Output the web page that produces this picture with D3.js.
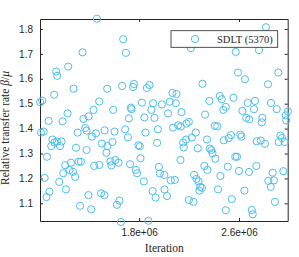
<!DOCTYPE html>
<html>
<head>
<meta charset="utf-8">
<script src="https://cdn.jsdelivr.net/npm/d3@7"></script>
<style>
  body { margin: 0; background: #fff; }
  .axis path, .axis line { stroke: #262626; }
  .axis text { font-family: "Liberation Sans", Arial, sans-serif; font-size: 10px; fill: #262626; }
  .lbl { font-family: "Liberation Serif", "Times New Roman", serif; fill: #262626; }
</style>
</head>
<body>
<div id="chart"></div>
<script>
// iteration (thousands) and relative transfer rate
var iterK = [1462,1347,1232,1136,1144,1275,1120,1008,1024,1480,1435,1227,1395,1354,1075,1187,
  1672,1694,1544,1664,1758,1752,1883,1862,1592,1734,1739,1822,1912,1982,1898,1718,1842,1923,
  2214,2307,2067,2099,2046,2094,2032,2139,2328,2363,2446,2462,2474,2494,
  2816,2574,2760,2592,2648,2915,2832,2555,2670,2728,2627,2720,2856,2902,2992,2974,2978,
  2658,2682,2787,2782,
  2072,2112,2134,2179,2198,2406,2426,2254,2222,2152,2176,2158,2270,2344,2478,2131,2366,2379,2387,2411,
  2323,2347,2054,2086,2240,2259,2275,2290,2304,2283,2451,2432,2003,2024,2198,2235,2494,
  2518,2536,2610,2620,2742,2774,2808,2931,2944,2918,2966,2570,2584,2510,2600,2680,2739,2870,2880,
  2835,2854,2955,2643,2542,2888,2702,2710,
  1523,1603,1688,1710,1851,1950,1502,1546,1586,1538,1794,1806,1944,1811,1570,1578,1610,1635,1727,
  1774,1783,1482,1838,1958,1966,2002,1495,1522,1642,1622,1908,1932,1654,1874,
  1014,1035,1307,1368,1379,1454,1422,1106,1122,1142,1179,1096,1166,1294,1379,1062,1254,1315,1334,
  1208,1440,1242,1270,1192,1288,1043,1160,1214,1082,1058,1394,1327,1416];

var rate = [1.841,1.706,1.649,1.629,1.612,1.560,1.536,1.506,1.512,1.509,1.475,1.461,1.449,1.439,1.431,1.429,
  1.759,1.704,1.560,1.571,1.579,1.567,1.575,1.563,1.475,1.484,1.478,1.504,1.502,1.497,1.475,1.441,1.445,1.443,
  1.723,1.580,1.543,1.539,1.508,1.502,1.461,1.466,1.456,1.511,1.531,1.518,1.475,1.487,
  1.807,1.708,1.715,1.625,1.598,1.625,1.578,1.524,1.503,1.511,1.471,1.478,1.503,1.478,1.469,1.453,1.433,
  1.443,1.437,1.443,1.425,
  1.404,1.413,1.408,1.420,1.427,1.411,1.409,1.384,1.364,1.344,1.356,1.324,1.321,1.356,1.353,1.274,1.320,1.314,1.301,1.279,
  1.250,1.234,1.192,1.194,1.214,1.198,1.188,1.166,1.162,1.151,1.210,1.156,1.156,1.129,1.113,1.106,1.072,
  1.362,1.374,1.376,1.368,1.349,1.352,1.339,1.372,1.362,1.346,1.346,1.287,1.287,1.247,1.230,1.226,1.250,1.223,1.192,
  1.190,1.166,1.229,1.151,1.117,1.106,1.073,1.056,
  1.393,1.388,1.397,1.365,1.384,1.397,1.340,1.330,1.346,1.303,1.333,1.329,1.343,1.281,1.268,1.252,1.274,1.263,1.257,
  1.234,1.221,1.254,1.188,1.246,1.220,1.214,1.140,1.133,1.111,1.094,1.149,1.123,1.025,1.030,
  1.384,1.388,1.384,1.402,1.392,1.381,1.368,1.356,1.344,1.348,1.348,1.330,1.330,1.323,1.314,1.287,1.263,1.267,1.267,
  1.253,1.250,1.234,1.226,1.221,1.206,1.202,1.186,1.156,1.147,1.125,1.133,1.090,1.076];

var yTicks = [1.1, 1.2, 1.3, 1.4, 1.5, 1.6, 1.7, 1.8];
var xTicks = [1.8e6, 2.6e6];
var seriesName = "SDLT (5370)";

var W = 299, H = 257;
var margin = {top: 19, right: 11.3, bottom: 36, left: 40},
    width = W - margin.left - margin.right,
    height = H - margin.top - margin.bottom;

var data = iterK.map(function(d, i) { return {x: d * 1000, y: rate[i]}; });

var x = d3.scaleLinear().domain([1.006e6, 2.990e6]).range([0, width]);
var y = d3.scaleLinear().domain([1.029, 1.840]).range([height, 0]);

var svg = d3.select("#chart").append("svg")
    .attr("width", W)
    .attr("height", H)
  .append("g")
    .attr("transform", "translate(" + margin.left + "," + margin.top + ")");

var fmt = function(d) { return (d / 1e6).toFixed(1) + "e+06"; };

svg.append("g").attr("class", "axis")
    .attr("transform", "translate(0," + height + ")")
    .call(d3.axisBottom(x).tickValues(xTicks).tickFormat(fmt).tickSizeInner(-3).tickSizeOuter(0).tickPadding(8));
svg.append("g").attr("class", "axis")
    .call(d3.axisTop(x).tickValues(xTicks).tickFormat("").tickSizeInner(-3).tickSizeOuter(0));
svg.append("g").attr("class", "axis")
    .call(d3.axisLeft(y).tickValues(yTicks).tickFormat(d3.format(".1f")).tickSizeInner(-3).tickSizeOuter(0).tickPadding(7));
svg.append("g").attr("class", "axis")
    .attr("transform", "translate(" + width + ",0)")
    .call(d3.axisRight(y).tickValues(yTicks).tickFormat("").tickSizeInner(-3).tickSizeOuter(0));

svg.selectAll("circle.pt")
    .data(data)
  .enter().append("circle")
    .attr("class", "pt")
    .attr("cx", function(d) { return x(d.x); })
    .attr("cy", function(d) { return y(d.y); })
    .attr("r", 3.6)
    .attr("fill", "none")
    .attr("stroke", "#4dbeee")
    .attr("stroke-width", 1);

// axis labels
svg.append("text").attr("class", "lbl")
    .attr("x", width / 2 + 0.5)
    .attr("y", height + 31)
    .attr("text-anchor", "middle")
    .style("font-size", "11.5px")
    .text("Iteration");

var yl = svg.append("text").attr("class", "lbl")
    .attr("transform", "translate(-31," + (height / 2 + 8) + ") rotate(-90)")
    .attr("text-anchor", "middle")
    .style("font-size", "11.5px");
yl.append("tspan").text("Relative transfer rate ");
yl.append("tspan").style("font-style", "italic").text("β");
yl.append("tspan").text("/");
yl.append("tspan").style("font-style", "italic").text("μ");

// legend
var lg = svg.append("g").attr("transform", "translate(" + (171 - margin.left) + "," + (30.7 - margin.top) + ")");
lg.append("rect")
    .attr("width", 106.7).attr("height", 16.6)
    .attr("fill", "#fff").attr("stroke", "#262626").attr("stroke-width", 0.8);
lg.append("circle")
    .attr("cx", 24).attr("cy", 8.3).attr("r", 3.6)
    .attr("fill", "none").attr("stroke", "#4dbeee").attr("stroke-width", 1);
lg.append("text").attr("class", "lbl")
    .attr("x", 101.7).attr("y", 12)
    .attr("text-anchor", "end")
    .style("font-size", "10.5px")
    .text(seriesName);
</script>
</body>
</html>
